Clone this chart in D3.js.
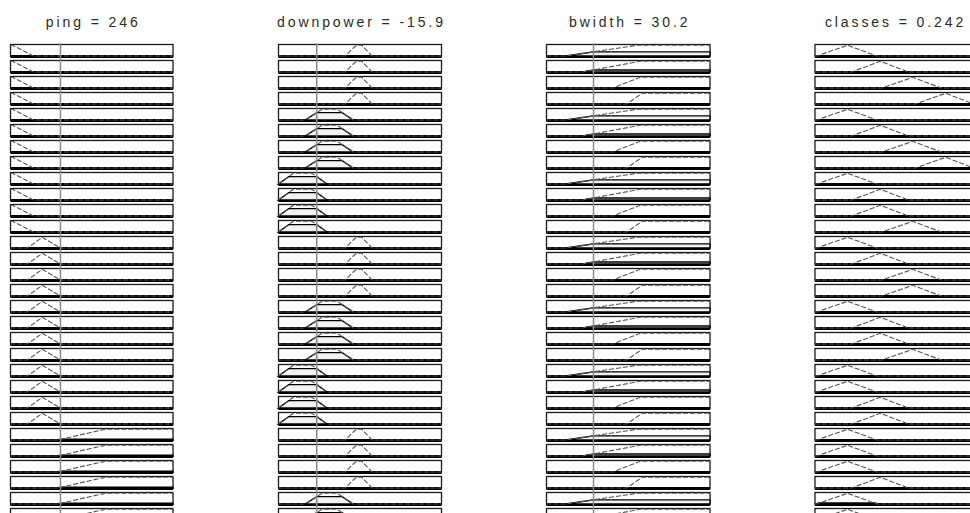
<!DOCTYPE html>
<html>
<head>
<meta charset="utf-8">
<script src="https://cdn.jsdelivr.net/npm/d3@7"></script>
<style>
  html, body { margin: 0; padding: 0; background: #fff; }
  svg { display: block; }
  .title { font-family: "Liberation Sans", Arial, sans-serif; font-size: 14px; fill: #2a2a2a; letter-spacing: 2.9px; }
</style>
</head>
<body>
<svg id="chart" width="970" height="513"></svg>
<script>
// variables of the fuzzy system, shown as column titles
const VAR_NAMES = ['ping', 'downpower', 'bwidth', 'classes'];
const VAR_LABELS = ['246', '-15.9', '30.2', '0.242'];
const INPUT_VALUES = [246, -15.9, 30.2];
const RANGES = [[0, 800], [-22, 4], [0, 105], [0, 1]];

// membership functions, trapezoids [a, b, c, d]
const PING_MF = [[0, 0, 10, 113], [83, 157, 157, 245], [231, 466, 800, 800]];
const DOWNPOWER_MF = [[-11.4, -9.6, -8.7, -7.1], [-17.75, -15.05, -12.65, -10.1], [-22, -19.65, -16.65, -14.25]];
const BWIDTH_MF = [[12.4, 58.1, 105, 105], [23.3, 60, 105, 105], [42.6, 60, 105, 105], [51.6, 61.3, 105, 105]];
const CLASSES_MF = [[0.01, 0.2, 0.2, 0.38], [0.225, 0.4, 0.4, 0.575], [0.41, 0.6, 0.6, 0.775], [0.615, 0.8, 0.8, 0.975]];

// rule base: which MF of each variable a rule uses
const RULE_PING      = [0,0,0,0,0,0,0,0,0,0,0,0, 1,1,1,1,1,1,1,1,1,1,1,1, 2,2,2,2,2,2,2,2,2,2,2,2];
const RULE_DOWNPOWER = [0,0,0,0,1,1,1,1,2,2,2,2, 0,0,0,0,1,1,1,1,2,2,2,2, 0,0,0,0,1,1,1,1,2,2,2,2];
const RULE_BWIDTH    = [0,1,2,3,0,1,2,3,0,1,2,3, 0,1,2,3,0,1,2,3,0,1,2,3, 0,1,2,3,0,1,2,3,0,1,2,3];
const RULE_CLASSES   = [0,1,2,3,0,1,2,3,0,1,1,2, 0,1,2,2,0,1,1,2,0,0,1,1, 0,0,0,1,0,0,1,1,0,0,0,1];

const MFS = [PING_MF, DOWNPOWER_MF, BWIDTH_MF, CLASSES_MF];
const RULES = [RULE_PING, RULE_DOWNPOWER, RULE_BWIDTH, RULE_CLASSES];

// layout
const COL_X = [[10.5, 173], [278.5, 441.5], [546.5, 710], [815, 978]];
const ROW_TOP = 44.5, ROW_STEP = 16, BOX_H = 12;

function trap(x, [a, b, c, d]) {
  if (x < a || x > d) return 0;
  if (x < b) return b === a ? 1 : (x - a) / (b - a);
  if (x <= c) return 1;
  return d === c ? 1 : (d - x) / (d - c);
}

// breakpoints of min(mf, cap) inside [lo, hi]
function shape(mf, lo, hi, cap) {
  const [a, b, c, d] = mf;
  let xs = [lo, hi, a, b, c, d];
  if (cap < 1) xs.push(a + cap * (b - a), d - cap * (d - c));
  xs = Array.from(new Set(xs.filter(x => x >= lo && x <= hi))).sort((p, q) => p - q);
  return xs.map(x => [x, Math.min(trap(x, mf), cap)]);
}

const svg = d3.select('#chart');
const rowY = d3.scaleLinear().domain([0, 1]).range([ROW_TOP, ROW_TOP + ROW_STEP]);
const rows = d3.range(RULE_PING.length);

// firing degree of each input MF at the input value
const degrees = INPUT_VALUES.map((v, k) => MFS[k].map(mf => trap(v, mf)));
const firing = rows.map(i => d3.min(INPUT_VALUES, (v, k) => degrees[k][RULES[k][i]]));

VAR_NAMES.forEach((name, k) => {
  const [x0, x1] = COL_X[k];
  const [lo, hi] = RANGES[k];
  const x = d3.scaleLinear().domain(RANGES[k]).range([x0, x1]);
  const g = svg.append('g');

  g.append('text').attr('class', 'title')
    .attr('x', (x0 + x1) / 2 + (k === 3 ? -1 : 1.5)).attr('y', 26.5)
    .attr('text-anchor', 'middle')
    .text(`${name} = ${VAR_LABELS[k]}`);

  rows.forEach(i => {
    const top = rowY(i);
    const y = d3.scaleLinear().domain([0, 1]).range([top + BOX_H - 0.5, top + 0.8]);
    const mf = MFS[k][RULES[k][i]];
    const cell = g.append('g');

    cell.append('rect')
      .attr('x', x0).attr('y', top).attr('width', x1 - x0).attr('height', BOX_H)
      .attr('fill', '#fff').attr('stroke', '#1a1a1a').attr('stroke-width', 1.3);
    cell.append('line')
      .attr('x1', x0).attr('x2', x1).attr('y1', top + BOX_H).attr('y2', top + BOX_H)
      .attr('stroke', '#000').attr('stroke-width', 2.8);

    const line = d3.line().x(p => x(p[0])).y(p => y(p[1]));
    const isOutput = k === 3;
    const cap = isOutput ? firing[i] : degrees[k][RULES[k][i]];

    if (isOutput || cap > 0) {
      const sLo = Math.max(lo, mf[0]), sHi = Math.min(hi, mf[3]);
      const pts = shape(mf, sLo, sHi, cap);
      const poly = [[sLo, 0], ...pts, [sHi, 0]];
      cell.append('path')
        .attr('d', line(poly) + 'Z')
        .attr('fill', isOutput ? '#000' : '#f4f4f4')
        .attr('stroke', '#000').attr('stroke-width', isOutput ? 2 : 1.4);
    }

    cell.append('path')
      .attr('d', line(shape(mf, lo, hi, 1)))
      .attr('fill', 'none').attr('stroke', '#555').attr('stroke-width', 1.1)
      .attr('stroke-dasharray', '5,2');
  });

  if (k < 3) {
    g.append('line')
      .attr('x1', x(INPUT_VALUES[k])).attr('x2', x(INPUT_VALUES[k]))
      .attr('y1', ROW_TOP - 1).attr('y2', 513)
      .attr('stroke', '#8a8a8a').attr('stroke-width', 1.5);
  }
});
</script>
</body>
</html>
